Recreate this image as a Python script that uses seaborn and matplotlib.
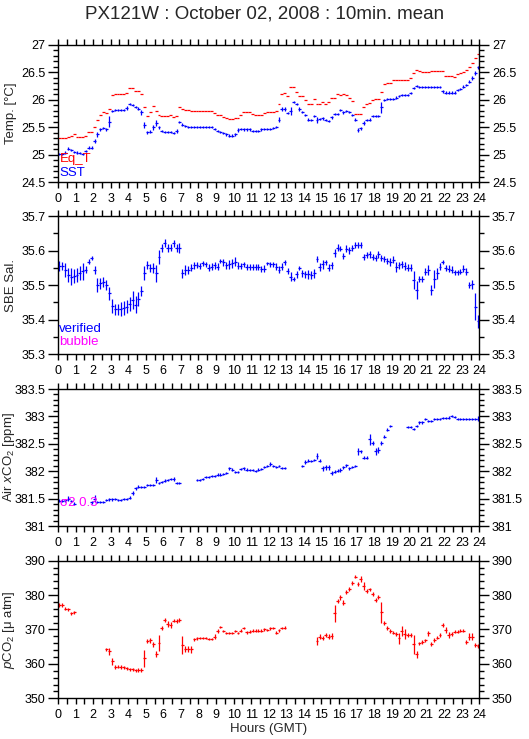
import numpy as np
import matplotlib
matplotlib.use("Agg")
import matplotlib.pyplot as plt
import seaborn as sns
from matplotlib.ticker import MultipleLocator, FuncFormatter

nan = np.nan

# 10-minute bins, 6 per hour, 0..24 GMT
eq_temp = [
    25.31, 25.30, 25.30, 25.33, 25.35, 25.38,
    25.32, 25.32, 25.32, 25.35, 25.41, 25.41,
    25.51, 25.64, 25.73, 25.77, 25.76, 25.84,
    26.08, 26.10, 26.10, 26.10, 26.10, 26.13,
    26.21, 26.21, 26.16, 26.15, 26.10, 25.86,
    25.71, 25.77, 25.89, 25.79, 25.73, 25.70,
    25.70, 25.70, 25.72, 25.69, 25.71, 25.87,
    25.84, 25.81, 25.81, 25.79, 25.79, 25.79,
    25.79, 25.79, 25.79, 25.79, 25.79, 25.76,
    25.72, 25.72, 25.69, 25.67, 25.65, 25.65,
    25.67, 25.66, 25.73, 25.78, 25.78, 25.78,
    25.75, 25.72, 25.72, 25.72, 25.76, 25.78,
    25.78, 25.78, 25.79, 25.92, 26.11, 26.13,
    26.06, 26.24, 26.23, 26.14, 26.06, 26.06,
    25.99, 25.93, 25.92, 26.01, 25.92, 25.92,
    25.96, 25.92, 25.96, 26.03, 26.03, 26.10,
    26.08, 26.10, 26.08, 26.04, 25.98, 25.75,
    25.75, 25.75, 25.87, 25.92, 25.95, 25.99,
    26.01, 26.01, 26.14, 26.29, 26.30, 26.30,
    26.36, 26.36, 26.36, 26.36, 26.36, 26.36,
    26.40, 26.48, 26.54, 26.52, 26.51, 26.51,
    26.51, 26.53, 26.52, 26.52, 26.52, 26.52,
    26.44, 26.43, 26.43, 26.41, 26.46, 26.48,
    26.50, 26.54, 26.60, 26.66, 26.75, 26.84,
]

sst = [
    25.01, 25.01, 25.04, 25.11, 25.09, 25.05,
    25.04, 25.03, 25.01, 25.07, 25.13, 25.13,
    25.25, 25.37, 25.46, 25.48, 25.46, 25.60,
    25.79, 25.81, 25.81, 25.81, 25.81, 25.85,
    25.92, 25.90, 25.87, 25.84, 25.77, 25.54,
    25.41, 25.42, 25.50, 25.58, 25.50, 25.43,
    25.42, 25.42, 25.42, 25.40, 25.43, 25.59,
    25.55, 25.52, 25.51, 25.51, 25.51, 25.50,
    25.50, 25.50, 25.50, 25.50, 25.50, 25.47,
    25.43, 25.41, 25.39, 25.37, 25.35, 25.35,
    25.37, 25.45, 25.47, 25.46, 25.46, 25.46,
    25.43, 25.43, 25.43, 25.46, 25.47, 25.47,
    25.47, 25.49, 25.51, 25.64, 25.83, 25.83,
    25.76, 25.80, 25.96, 25.93, 25.83, 25.78,
    25.73, 25.64, 25.63, 25.71, 25.63, 25.65,
    25.66, 25.63, 25.61, 25.68, 25.74, 25.74,
    25.81, 25.77, 25.80, 25.78, 25.72, 25.64,
    25.45, 25.48, 25.58, 25.63, 25.64, 25.70,
    25.71, 25.71, 25.86, 25.99, 26.01, 26.01,
    26.01, 26.04, 26.07, 26.09, 26.09, 26.09,
    26.12, 26.21, 26.25, 26.23, 26.23, 26.23,
    26.23, 26.23, 26.23, 26.23, 26.23, 26.15,
    26.13, 26.13, 26.13, 26.13, 26.18, 26.19,
    26.24, 26.27, 26.33, 26.39, 26.49, 26.59,
]

sst_err = [
    .02, .02, .02, .03, .02, .02,
    .02, .02, .02, .02, .03, .03,
    .03, .05, .03, .02, .02, .10,
    .02, .02, .02, .02, .02, .03,
    .02, .02, .02, .02, .05, .06,
    .03, .03, .05, .05, .03, .02,
    .02, .02, .02, .02, .03, .02,
    .03, .02, .02, .02, .02, .02,
    .02, .02, .02, .02, .02, .02,
    .02, .02, .02, .02, .02, .02,
    .02, .03, .02, .02, .02, .02,
    .02, .02, .02, .02, .02, .02,
    .02, .02, .02, .04, .03, .03,
    .02, .07, .02, .02, .03, .02,
    .02, .03, .02, .02, .05, .02,
    .02, .02, .02, .03, .02, .02,
    .02, .02, .02, .02, .02, .03,
    .04, .03, .03, .02, .02, .02,
    .02, .02, .10, .02, .02, .02,
    .02, .02, .02, .02, .02, .02,
    .02, .02, .02, .02, .02, .02,
    .02, .02, .02, .02, .02, .02,
    .02, .02, .02, .02, .02, .02,
    .02, .02, .03, .04, .04, .03,
]

salinity = [
    35.555, 35.556, 35.545, 35.530, 35.525, 35.527,
    35.530, 35.535, 35.540, 35.545, 35.568, 35.578,
    35.544, 35.500, 35.505, 35.510, 35.500, 35.476,
    35.440, 35.430, 35.430, 35.430, 35.433, 35.438,
    35.445, 35.457, 35.443, 35.459, 35.483, 35.534,
    35.558, 35.549, 35.549, 35.534, 35.582, 35.608,
    35.621, 35.607, 35.608, 35.621, 35.607, 35.607,
    35.534, 35.544, 35.544, 35.550, 35.558, 35.558,
    35.556, 35.563, 35.560, 35.550, 35.553, 35.558,
    35.553, 35.570, 35.566, 35.558, 35.560, 35.563,
    35.568, 35.556, 35.556, 35.560, 35.553, 35.553,
    35.553, 35.553, 35.553, 35.547, 35.547, 35.563,
    35.560, 35.560, 35.553, 35.544, 35.553, 35.566,
    35.541, 35.525, 35.518, 35.531, 35.549, 35.534,
    35.531, 35.531, 35.529, 35.534, 35.576, 35.553,
    35.560, 35.566, 35.551, 35.558, 35.592, 35.608,
    35.606, 35.585, 35.606, 35.601, 35.608, 35.616,
    35.616, 35.616, 35.582, 35.587, 35.589, 35.582,
    35.579, 35.589, 35.578, 35.576, 35.570, 35.566,
    35.573, 35.553, 35.558, 35.560, 35.556, 35.550,
    35.550, 35.515, 35.486, 35.518, 35.518, 35.539,
    35.544, 35.486, 35.518, 35.534, 35.553, 35.566,
    35.550, 35.547, 35.544, 35.537, 35.537, 35.539,
    35.547, 35.539, 35.500, 35.502, 35.438, 35.395,
]

sal_err = [
    .015, .012, .020, .020, .025, .020,
    .020, .020, .025, .010, .008, .006,
    .012, .020, .015, .015, .015, .020,
    .020, .015, .015, .020, .020, .020,
    .020, .025, .025, .020, .015, .020,
    .012, .012, .015, .025, .020, .012,
    .012, .012, .010, .010, .012, .015,
    .012, .015, .012, .010, .010, .008,
    .008, .008, .008, .010, .010, .010,
    .010, .006, .010, .010, .012, .012,
    .012, .010, .008, .008, .008, .008,
    .008, .008, .008, .008, .010, .005,
    .008, .008, .010, .010, .010, .008,
    .010, .012, .005, .010, .005, .010,
    .010, .012, .012, .012, .008, .012,
    .012, .008, .010, .010, .012, .010,
    .008, .008, .010, .010, .008, .008,
    .008, .008, .008, .008, .010, .008,
    .008, .010, .008, .008, .008, .012,
    .010, .015, .010, .010, .012, .010,
    .010, .025, .025, .008, .008, .010,
    .015, .015, .025, .015, .010, .006,
    .008, .010, .010, .008, .008, .008,
    .010, .010, .008, .012, .040, .020,
]

xco2 = [
    381.46, 381.46, 381.47, 381.50, 381.46, 381.41,
    nan, nan, nan, nan, nan, 381.43,
    381.50, 381.44, 381.44, 381.44, 381.47, 381.49,
    381.49, 381.49, 381.47, 381.47, 381.49, 381.50,
    381.52, 381.60, 381.69, 381.72, 381.71, 381.71,
    381.75, 381.75, 381.75, 381.84, 381.79, 381.81,
    381.83, 381.84, 381.86, 381.86, 381.79, 381.79,
    nan, nan, nan, nan, nan, 381.84,
    381.84, 381.86, 381.89, 381.90, 381.91, 381.92,
    381.94, 381.94, 381.95, 381.97, 382.05, 382.03,
    381.98, 381.98, 382.04, 382.05, 382.03, 382.02,
    382.02, 382.01, 382.03, 382.04, 382.08, 382.09,
    382.13, 382.09, 382.08, 382.09, 382.06, 382.06,
    nan, nan, nan, nan, nan, 382.09,
    382.17, 382.19, 382.19, 382.20, 382.28, 382.19,
    382.05, 382.07, 382.07, 381.97, 381.99, 382.01,
    382.02, 382.07, 382.11, 382.05, 382.07, 382.09,
    382.36, 382.36, 382.25, 382.25, 382.58, 382.52,
    382.36, 382.39, 382.52, 382.63, 382.76, 382.82,
    nan, nan, nan, nan, nan, 382.80,
    382.80, 382.77, 382.82, 382.89, 382.89, 382.95,
    382.92, 382.92, 382.96, 382.96, 382.96, 382.97,
    382.97, 382.98, 383.01, 382.99, 382.96, 382.96,
    382.96, 382.96, 382.96, 382.96, 382.96, 382.96,
]

xco2_err = [
    .03, .03, .03, .04, .02, .02,
    0, 0, 0, 0, 0, .03,
    .06, .02, .02, .02, .02, .03,
    .03, .02, .02, .02, .02, .02,
    .02, .03, .03, .02, .02, .02,
    .02, .02, .02, .06, .02, .02,
    .02, .02, .02, .03, .02, .02,
    0, 0, 0, 0, 0, .02,
    .02, .02, .02, .02, .02, .02,
    .02, .02, .02, .02, .03, .02,
    .02, .02, .02, .02, .02, .02,
    .02, .02, .02, .02, .02, .02,
    .03, .02, .02, .02, .02, .02,
    0, 0, 0, 0, 0, .02,
    .03, .03, .02, .02, .05, .03,
    .04, .04, .04, .03, .03, .03,
    .03, .03, .03, .02, .02, .02,
    .07, .02, .02, .02, .10, .04,
    .06, .06, .04, .03, .02, .02,
    0, 0, 0, 0, 0, .02,
    .02, .02, .02, .02, .02, .02,
    .02, .02, .02, .02, .02, .02,
    .02, .02, .02, .02, .02, .02,
    .02, .02, .02, .02, .02, .04,
]

pco2 = [
    377.1, 377.1, 376.0, 375.9, 374.7, 375.0,
    nan, nan, nan, nan, nan, nan,
    nan, nan, nan, nan, 364.2, 363.6,
    360.7, 359.1, 359.2, 359.1, 359.0, 358.7,
    358.4, 358.4, 358.1, 358.2, 358.2, 361.6,
    366.7, 366.8, 365.7, 362.8, 366.0, 370.5,
    372.8, 371.6, 371.3, 372.6, 372.5, 372.8,
    365.5, 364.3, 364.3, 364.3, 367.1, 367.4,
    367.6, 367.6, 367.6, 367.1, 367.1, 367.9,
    369.6, 370.8, 369.6, 369.1, 369.1, 369.1,
    369.6, 369.1, 369.7, 370.3, 369.2, 369.4,
    369.7, 369.7, 369.7, 369.7, 370.0, 369.8,
    370.3, 370.3, 369.1, 369.8, 370.3, 370.5,
    nan, nan, nan, nan, nan, nan,
    nan, nan, nan, nan, 366.7, 367.9,
    367.4, 368.4, 367.9, 368.1, 374.7, 378.3,
    379.3, 377.8, 380.8, 381.8, 383.4, 385.4,
    383.2, 384.7, 382.6, 381.2, 381.7, 380.4,
    378.6, 379.5, 375.0, 372.0, 370.5, 369.6,
    369.1, 368.7, 367.4, 369.6, 368.7, 368.4,
    368.4, 365.7, 362.8, 366.0, 366.3, 366.8,
    368.9, 365.9, 366.9, 367.6, 368.4, 371.3,
    369.9, 368.4, 368.7, 369.4, 369.4, 369.7,
    369.7, 366.3, 367.9, 367.9, 365.5, 365.2,
]

pco2_err = [
    .6, .6, .4, .4, .4, .4,
    0, 0, 0, 0, 0, 0,
    0, 0, 0, 0, .5, 1.0,
    1.0, .5, .5, .5, .5, .5,
    .5, .5, .5, .5, .5, 2.5,
    .6, .6, .8, .8, 2.4, .6,
    .6, .8, .8, .5, .5, .5,
    2.7, .8, .8, 1.0, .5, .4,
    .3, .3, .3, .3, .3, .8,
    .6, .3, .3, .3, .3, .3,
    .3, .3, .4, .3, .5, .4,
    .3, .3, .3, .3, .4, .3,
    .4, .3, .5, .4, .3, .4,
    0, 0, 0, 0, 0, 0,
    0, 0, 0, 0, 1.2, .8,
    .6, .6, .8, 1.0, 2.4, .6,
    .6, .8, .6, .6, .6, .4,
    .6, .8, 1.2, .6, .5, .6,
    .6, .6, 3.0, .6, .6, .5,
    .5, .5, 1.5, 1.5, 1.5, .5,
    .5, 2.7, 1.0, .5, .5, .5,
    .8, .6, .5, .5, .5, .6,
    .8, 1.0, .5, .5, .5, .5,
    .5, .5, 1.0, 1.0, .5, .5,
]

hours = np.arange(144) / 6.0 + 1.0 / 12.0
half_bin = 1.0 / 12.0

sns.set_style("ticks")
plt.rcParams['font.family'] = ['Liberation Sans', 'DejaVu Sans']
plt.rcParams['mathtext.fontset'] = 'custom'
plt.rcParams['mathtext.rm'] = 'Liberation Sans'
plt.rcParams['mathtext.it'] = 'Liberation Sans:italic'
plt.rcParams['axes.linewidth'] = 1.0
plt.rcParams['xtick.color'] = 'black'
plt.rcParams['ytick.color'] = 'black'

BLUE = (0, 0, 1)
RED = (1, 0, 0)
MAGENTA = (1, 0, 1)

fig = plt.figure(figsize=(5.29, 7.39), dpi=100)
left, width = 0.1096, 0.7968
rects = [(0.7533, 0.1862), (0.5206, 0.1871), (0.2882, 0.1854), (0.0551, 0.1862)]
axes = [fig.add_axes([left, b, width, h]) for b, h in rects]

fmt_g = FuncFormatter(lambda v, p: ('%g' % round(v, 4)))


def style_axis(ax, ylim, major, minor, label):
    ax.set_xlim(0, 24)
    ax.set_ylim(*ylim)
    ax.xaxis.set_major_locator(MultipleLocator(1))
    ax.xaxis.set_minor_locator(MultipleLocator(0.5))
    ax.yaxis.set_major_locator(MultipleLocator(major))
    ax.yaxis.set_minor_locator(MultipleLocator(minor))
    ax.yaxis.set_major_formatter(fmt_g)
    ax.tick_params(which='both', direction='out', top=True, right=True,
                   labelright=True, labelsize=9, width=1.0, color='black')
    ax.tick_params(axis='x', which='both', length=4, pad=4)
    ax.tick_params(axis='y', which='major', length=7, pad=2)
    ax.tick_params(axis='y', which='minor', length=3.5)
    for sp in ax.spines.values():
        sp.set_visible(True)
        sp.set_color('black')
    ax.set_ylabel(label, fontsize=9.5)
    ax.yaxis.set_label_coords(-0.098, 0.5)


def marks(ax, y, yerr, color):
    ax.errorbar(hours, y, xerr=half_bin, yerr=yerr, fmt='none',
                ecolor=color, elinewidth=0.9, capsize=0)


# panel 1: temperatures
ax = axes[0]
ax.errorbar(hours, eq_temp, xerr=half_bin, fmt='none', ecolor=RED, elinewidth=0.9)
marks(ax, sst, sst_err, BLUE)
style_axis(ax, (24.5, 27), 0.5, 0.1, 'Temp. [°C]')
ax.text(0.08, 24.86, 'Eq_T', color=RED, fontsize=9.5)
ax.text(0.08, 24.61, 'SST', color=BLUE, fontsize=9.5)

# panel 2: salinity
ax = axes[1]
marks(ax, salinity, sal_err, BLUE)
style_axis(ax, (35.3, 35.7), 0.1, 0.05, 'SBE Sal.')
ax.text(0.05, 35.365, 'verified', color=BLUE, fontsize=9.5)
ax.text(0.05, 35.327, 'bubble', color=MAGENTA, fontsize=9.5)

# panel 3: air xCO2
ax = axes[2]
marks(ax, xco2, xco2_err, BLUE)
style_axis(ax, (381, 383.5), 0.5, 0.1, 'Air $\\it{x}$CO$_2$ [ppm]')
ax.text(0.1, 381.36, 'σ2 0.3', color=MAGENTA, fontsize=9.5)

# panel 4: pCO2
ax = axes[3]
marks(ax, pco2, pco2_err, RED)
style_axis(ax, (350, 390), 10, 2, '$\\it{p}$CO$_2$ [μ atm]')
ax.set_xlabel('Hours (GMT)', fontsize=9.5, labelpad=1)

fig.suptitle('PX121W : October 02, 2008 : 10min. mean', fontsize=13.5, y=0.993)

fig.savefig('out.png', dpi=100)
